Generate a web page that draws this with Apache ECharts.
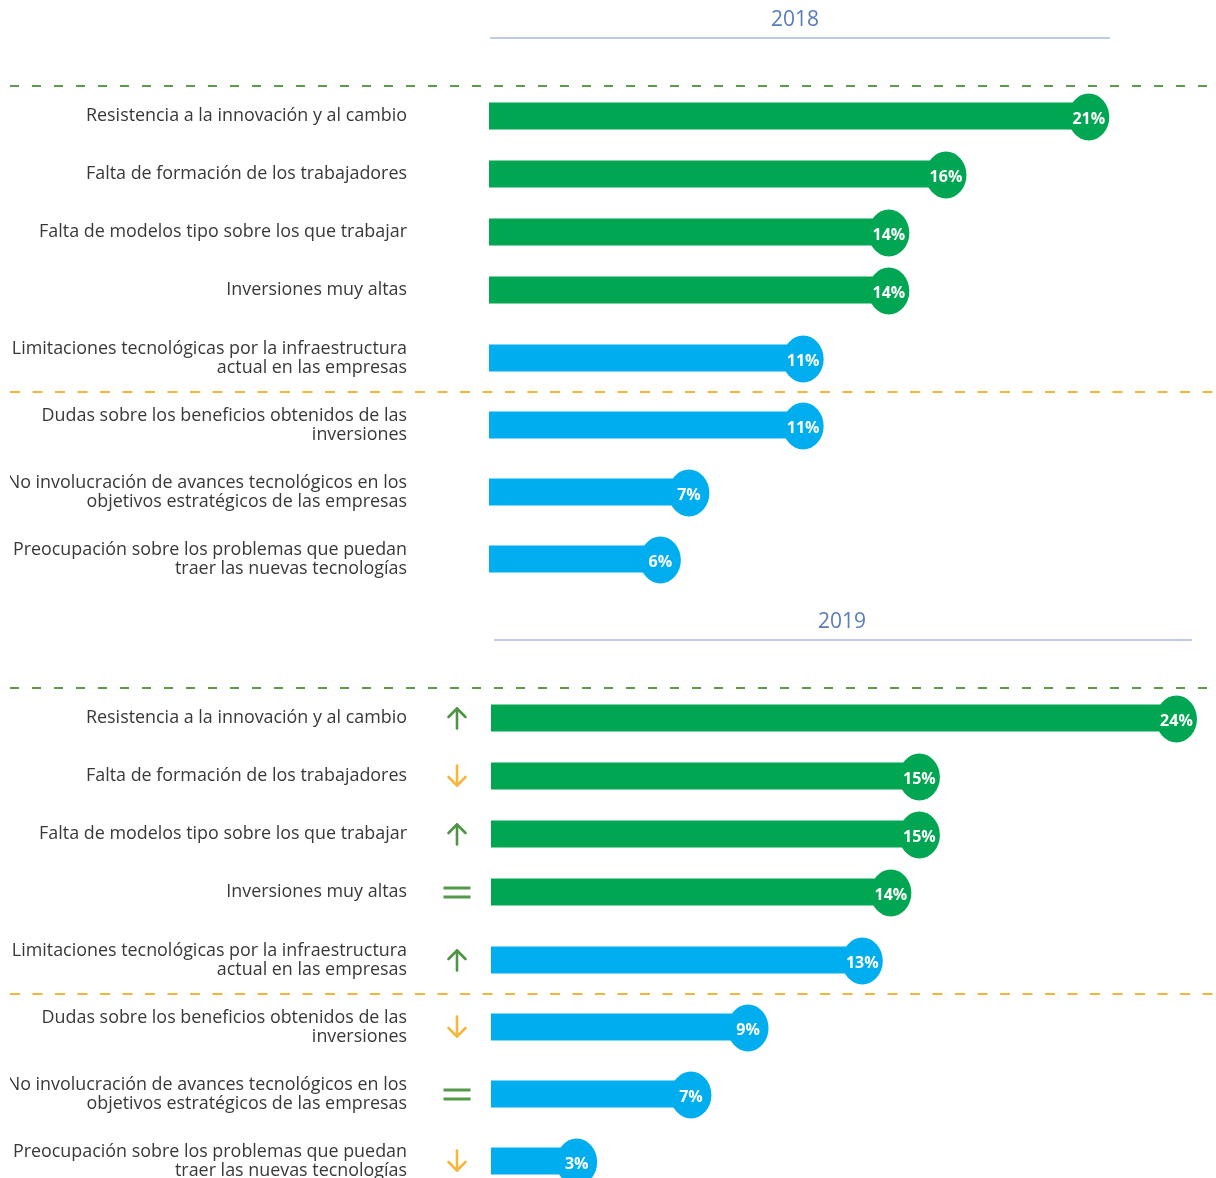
<!DOCTYPE html>
<html>
<head>
<meta charset="utf-8">
<style>
  html, body { margin: 0; padding: 0; background: #ffffff; }
  #chart { position: absolute; left: 10px; top: 0; width: 1206px; height: 1178px; overflow: hidden; }
</style>
<script src="https://cdn.jsdelivr.net/npm/echarts@6/dist/echarts.min.js"></script>
</head>
<body>
<div id="chart"></div>
<script>
// Barriers to digital transformation, share of responses (%)
const categories = [
  'Resistencia a la innovación y al cambio',
  'Falta de formación de los trabajadores',
  'Falta de modelos tipo sobre los que trabajar',
  'Inversiones muy altas',
  'Limitaciones tecnológicas por la infraestructura\nactual en las empresas',
  'Dudas sobre los beneficios obtenidos de las\ninversiones',
  'No involucración de avances tecnológicos en los\nobjetivos estratégicos de las empresas',
  'Preocupación sobre los problemas que puedan\ntraer las nuevas tecnologías'
];
const years = ['2018', '2019'];
const values2018 = [21, 16, 14, 14, 11, 11, 7, 6];
const values2019 = [24, 15, 15, 14, 13, 9, 7, 3];
// change versus the previous year
const trend2019 = ['up', 'down', 'up', 'equal', 'up', 'down', 'equal', 'down'];
// first block of categories is shown in green, the rest in blue
const firstBlockSize = 4;

const GREEN = '#00a651';
const BLUE = '#00aeef';
const LABEL_FONT = '"Open Sans", Lato, sans-serif';

function svgUrl(svg) {
  return 'data:image/svg+xml;charset=utf-8,' + encodeURIComponent(svg);
}
const arrowIcons = {
  up: svgUrl('<svg xmlns="http://www.w3.org/2000/svg" width="28" height="24" viewBox="0 0 28 24">' +
    '<g fill="none" stroke="#4f9444" stroke-width="2.6" stroke-linecap="round" stroke-linejoin="round">' +
    '<path d="M14 2.5 V22.5"/><path d="M5.5 11 L14 2.5 L22.5 11"/></g></svg>'),
  down: svgUrl('<svg xmlns="http://www.w3.org/2000/svg" width="28" height="24" viewBox="0 0 28 24">' +
    '<g fill="none" stroke="#f4b73e" stroke-width="2.6" stroke-linecap="round" stroke-linejoin="round">' +
    '<path d="M14 1.5 V21.5"/><path d="M5.5 13 L14 21.5 L22.5 13"/></g></svg>'),
  equal: svgUrl('<svg xmlns="http://www.w3.org/2000/svg" width="28" height="24" viewBox="0 0 28 24">' +
    '<g fill="#55994a"><rect x="0.5" y="6.5" width="27" height="3"/><rect x="0.5" y="15.5" width="27" height="3"/></g></svg>')
};

// layout of the two panels (container coordinates)
const panels = [
  { year: years[0], values: values2018, left: 479, topA: 87, topB: 324.5, labelMargin: 82, trend: null,
    titleX: 785, titleY: 20, lineX1: 480, lineX2: 1100, lineY: 38 },
  { year: years[1], values: values2019, left: 481, topA: 689, topB: 926.5, labelMargin: 84, trend: trend2019,
    titleX: 832, titleY: 622, lineX1: 484, lineX2: 1182, lineY: 640 }
];
const GRID_W = 714, X_MAX = 25, H_A = 232, H_B = 268;

const grid = [], xAxis = [], yAxis = [], series = [];
const labelAxisIdx = []; // [panel][block] -> yAxis index used for the bars

panels.forEach(function (p, pi) {
  labelAxisIdx.push([]);
  [0, 1].forEach(function (block) {
    const from = block === 0 ? 0 : firstBlockSize;
    const to = block === 0 ? firstBlockSize : categories.length;
    const cats = categories.slice(from, to);
    const vals = p.values.slice(from, to);
    const color = block === 0 ? GREEN : BLUE;
    const gi = grid.length;
    grid.push({
      left: p.left, width: GRID_W,
      top: block === 0 ? p.topA : p.topB,
      height: block === 0 ? H_A : H_B,
      outerBoundsMode: 'none', containLabel: false
    });
    xAxis.push({ type: 'value', gridIndex: gi, min: 0, max: X_MAX, show: false });
    const yi = yAxis.length;
    labelAxisIdx[pi].push(yi);
    yAxis.push({
      type: 'category', gridIndex: gi, data: cats, inverse: true, position: 'left',
      axisLine: { show: false }, axisTick: { show: false }, splitLine: { show: false },
      axisLabel: {
        margin: p.labelMargin, color: '#383838', fontSize: 17.9, lineHeight: 19,
        fontFamily: LABEL_FONT, align: 'right'
      }
    });
    if (p.trend) {
      yAxis.push({
        type: 'category', gridIndex: gi, data: p.trend.slice(from, to), inverse: true, position: 'left',
        axisLine: { show: false }, axisTick: { show: false }, splitLine: { show: false },
        axisLabel: {
          margin: 20,
          formatter: function (v) { return '{' + v + '| }'; },
          rich: {
            up: { width: 28, height: 24, backgroundColor: { image: arrowIcons.up } },
            down: { width: 28, height: 24, backgroundColor: { image: arrowIcons.down } },
            equal: { width: 28, height: 24, backgroundColor: { image: arrowIcons.equal } }
          }
        }
      });
    }
    series.push({
      type: 'bar', xAxisIndex: gi, yAxisIndex: yi, data: vals, barWidth: 27,
      itemStyle: { color: color }, silent: true, z: 2
    });
    series.push({
      type: 'scatter', xAxisIndex: gi, yAxisIndex: yi,
      data: vals.map(function (v, i) { return [v, i]; }),
      symbol: 'circle', symbolSize: [41, 47], symbolOffset: [0, 1],
      itemStyle: { color: color, opacity: 1 }, silent: true, z: 3,
      label: {
        show: true, position: 'inside', color: '#ffffff', fontSize: 16, fontWeight: 'bold',
        fontFamily: LABEL_FONT, offset: [0, 2],
        formatter: function (d) { return d.value[0] + '%'; }
      }
    });
  });
});

const chart = echarts.init(document.getElementById('chart'), null, { renderer: 'canvas' });
chart.setOption({
  animation: false,
  backgroundColor: '#ffffff',
  grid: grid, xAxis: xAxis, yAxis: yAxis, series: series
});

// headings and separators, placed from the axes' own band positions
const graphics = [];
panels.forEach(function (p, pi) {
  graphics.push({
    type: 'text', x: p.titleX, y: p.titleY, silent: true,
    style: { text: p.year, fill: '#5a7db7', fontSize: 21, fontFamily: LABEL_FONT,
      align: 'center', verticalAlign: 'middle' }
  });
  graphics.push({
    type: 'line', silent: true,
    shape: { x1: p.lineX1, y1: p.lineY, x2: p.lineX2, y2: p.lineY },
    style: { stroke: '#a9b9da', lineWidth: 1.5 }
  });
  const axA = labelAxisIdx[pi][0], axB = labelAxisIdx[pi][1];
  const a0 = chart.convertToPixel({ yAxisIndex: axA }, 0);
  const a1 = chart.convertToPixel({ yAxisIndex: axA }, 1);
  const b0 = chart.convertToPixel({ yAxisIndex: axB }, 0);
  const b1 = chart.convertToPixel({ yAxisIndex: axB }, 1);
  const greenY = Math.round(a0 - (a1 - a0) / 2) - 1;
  const orangeY = Math.round((b0 + b1) / 2);
  graphics.push({
    type: 'line', silent: true,
    shape: { x1: 0, y1: greenY, x2: 1206, y2: greenY },
    style: { stroke: '#5b9b4b', lineWidth: 2, lineDash: [9, 13] }
  });
  graphics.push({
    type: 'line', silent: true,
    shape: { x1: 0, y1: orangeY, x2: 1206, y2: orangeY },
    style: { stroke: '#f2b53d', lineWidth: 2, lineDash: [10, 12.5] }
  });
});
chart.setOption({ graphic: graphics });
</script>
</body>
</html>
